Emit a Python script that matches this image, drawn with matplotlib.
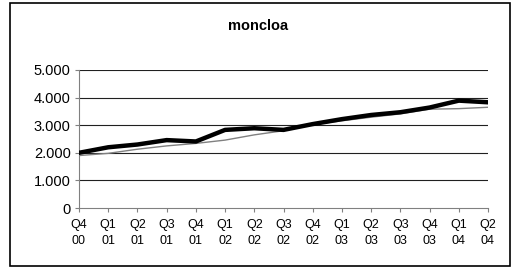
import matplotlib
matplotlib.use("Agg")
import matplotlib.pyplot as plt
from matplotlib.patches import Rectangle

quarters = ["Q4\n00", "Q1\n01", "Q2\n01", "Q3\n01", "Q4\n01", "Q1\n02", "Q2\n02", "Q3\n02",
            "Q4\n02", "Q1\n03", "Q2\n03", "Q3\n03", "Q4\n03", "Q1\n04", "Q2\n04"]
moncloa = [2000, 2200, 2300, 2460, 2410, 2830, 2890, 2830, 3040, 3220, 3370, 3470, 3640, 3890, 3830]
trend = [1900, 1980, 2130, 2250, 2340, 2460, 2650, 2800, 3020, 3160, 3290, 3410, 3580, 3600, 3650]
yticks = [0, 1000, 2000, 3000, 4000, 5000]
ylabels = ["0", "1.000", "2.000", "3.000", "4.000", "5.000"]

plt.rcParams["font.family"] = ["Liberation Sans", "DejaVu Sans"]

W, H = 511, 267
fig = plt.figure(figsize=(W / 100, H / 100), dpi=100)

# outer frame
fig.patches.append(Rectangle((9.5 / W, 1 - 265.5 / H), 500 / W, 262.5 / H,
                             transform=fig.transFigure, fill=False,
                             edgecolor="black", linewidth=1.2))

ax = fig.add_axes([79 / W, 1 - 208 / H, 409 / W, 138 / H])
x = range(len(quarters))
ax.plot(x, trend, color="#808080", linewidth=1.0, zorder=3)
ax.plot(x, moncloa, color="black", linewidth=3.2, zorder=4)

ax.set_xlim(0, len(quarters) - 1)
ax.set_ylim(0, 5000)
ax.set_yticks(yticks)
ax.set_yticklabels(ylabels, fontsize=10.5)
ax.set_xticks(list(x))
ax.set_xticklabels(quarters, fontsize=9, linespacing=1.4)

for v in yticks[1:]:
    ax.axhline(v, color="#202020", linewidth=0.8, zorder=1)

for s in ["top", "right"]:
    ax.spines[s].set_visible(False)
ax.spines["left"].set_color("#808080")
ax.spines["bottom"].set_color("#808080")
ax.tick_params(axis="both", direction="out", length=3, color="#808080", width=0.8)
ax.tick_params(axis="x", pad=5)
ax.tick_params(axis="y", pad=3)

fig.text(258 / W, 1 - 26 / H, "moncloa", ha="center", va="center",
         fontsize=10.5, fontweight="bold")

fig.savefig("out.png", dpi=100)
